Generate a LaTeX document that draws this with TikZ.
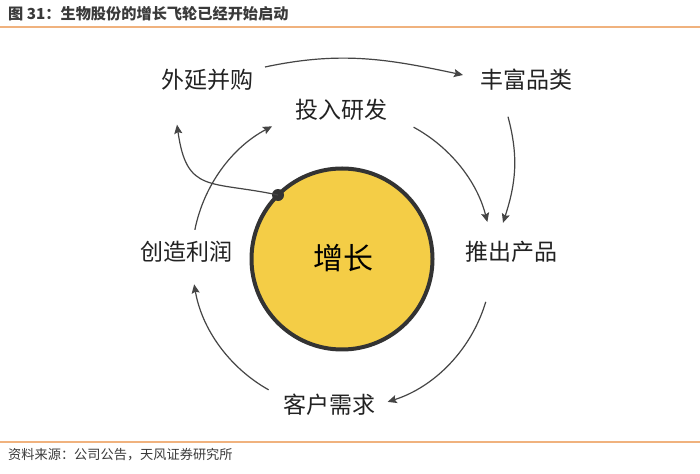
\documentclass[tikz,border=0pt]{standalone}
\usepackage{fontspec}
\newfontfamily\cjk{Noto Sans CJK SC}
\usetikzlibrary{arrows.meta}
\definecolor{hubfill}{HTML}{F4CD46}
\definecolor{hubline}{HTML}{333333}
\definecolor{arrcol}{HTML}{454545}
\definecolor{rule}{HTML}{F0B27E}
\definecolor{txt}{HTML}{222222}
\definecolor{cap}{HTML}{3A3A3A}
\tikzset{
  lbl/.style={inner sep=0pt, outer sep=0pt, text=txt, font=\cjk\fontsize{23}{23}\selectfont},
  arr/.style={draw=arrcol, line width=1.2pt, -{Stealth[length=9pt,width=8pt,inset=1.5pt]}},
  rulel/.style={draw=rule, line width=1.5pt},
}
\begin{document}
\begin{tikzpicture}[x=1pt,y=1pt]
\useasboundingbox (0,0) rectangle (700,473);
\fill[white] (0,0) rectangle (700,473);
% title and rules
\node[anchor=west, inner sep=0pt, text=cap, font=\cjk\bfseries\fontsize{15.2}{15.2}\selectfont] (title) at (8,459) {图 31：生物股份的增长飞轮已经开始启动};
\draw[rulel] (0,446) -- (700,446);
\draw[rulel] (0,31) -- (700,31);
\node[anchor=west, inner sep=0pt, text=cap, font=\cjk\fontsize{13.2}{13.2}\selectfont] (src) at (8,18) {资料来源：公司公告，天风证券研究所};
% hub
\node[circle, minimum size=181pt, inner sep=0pt, outer sep=0pt, fill=hubfill, draw=hubline, line width=4pt] (g) at (342,214) {};
\node[inner sep=0pt, text=black, font=\cjk\fontsize{30}{30}\selectfont] (gt) at (343,215) {增长};
\node[circle, fill=hubline, minimum size=12pt, inner sep=0pt] (dot) at (g.135) {};
% labels
\node[lbl] (wy) at (207,393) {外延并购};
\node[lbl] (fp) at (526,393) {丰富品类};
\node[lbl] (tr) at (341,363) {投入研发};
\node[lbl] (cz) at (186,221) {创造利润};
\node[lbl] (cp) at (511,221) {推出产品};
\node[lbl] (kh) at (329,68) {客户需求};
% ring arrows around the hub
\draw[arr] (g.center) ++(61.5:150) arc[start angle=61.5, end angle=14.3, radius=150];
\draw[arr] (g.center) ++(-16.6:150) arc[start angle=-16.6, end angle=-72.3, radius=150];
\draw[arr] (g.center) ++(-119.3:150) arc[start angle=-119.3, end angle=-170.3, radius=150];
\draw[arr] (g.center) ++(168.8:150) arc[start angle=168.8, end angle=117.8, radius=150];
% other arrows
\draw[arr] ([shift={(12,13)}]wy.east) to[out=12, in=168] ([shift={(-17,5)}]fp.west);
\draw[arr] ([shift={(-18,-26)}]fp.south) to[out=-75, in=72] ([shift={(-8,18.5)}]cp.north);
\draw[arr] (dot.center) to[out=168, in=-82, looseness=1.45] ([shift={(-30,-34)}]wy.south);
\end{tikzpicture}
\end{document}
